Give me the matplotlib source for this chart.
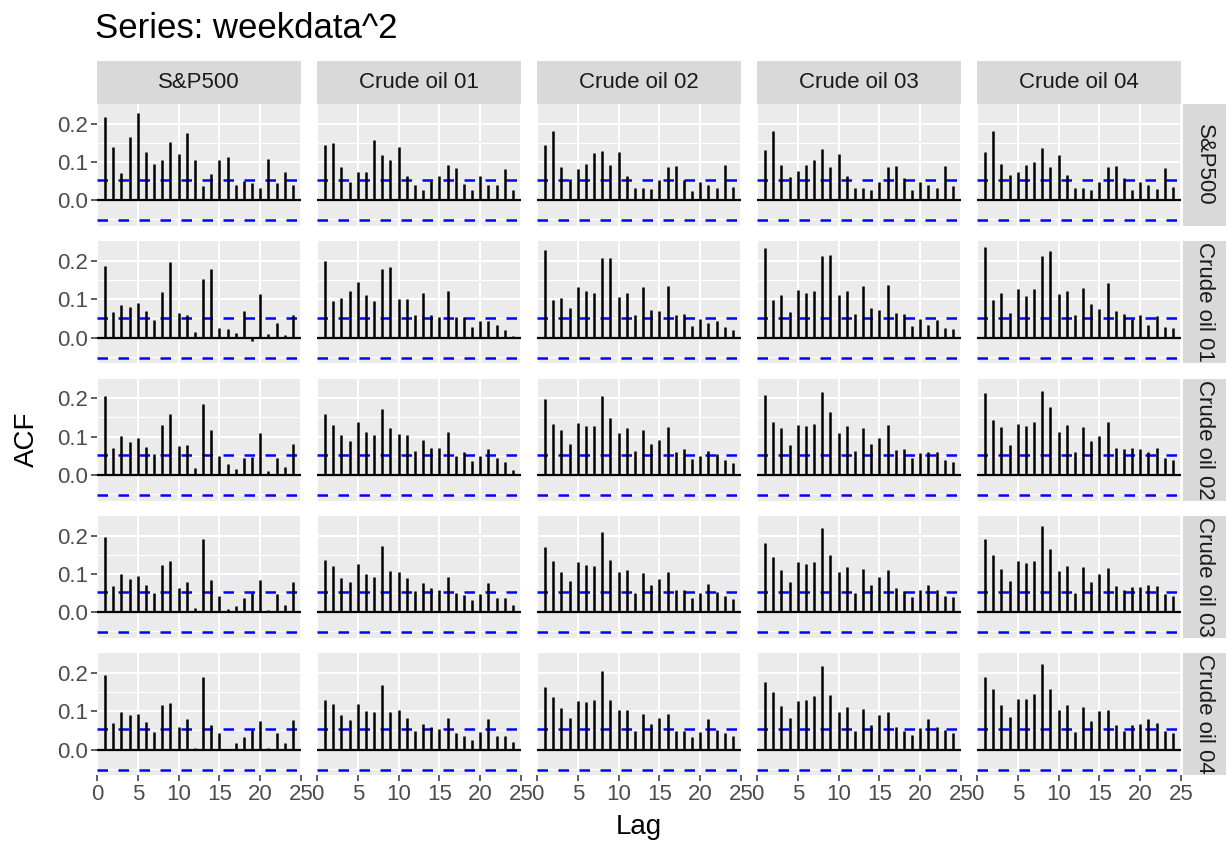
import matplotlib
matplotlib.use('Agg')
import matplotlib.pyplot as plt
import numpy as np

plt.rcParams['font.family'] = ['Liberation Sans', 'DejaVu Sans']

names = ['S&P500', 'Crude oil 01', 'Crude oil 02', 'Crude oil 03', 'Crude oil 04']
lags = np.arange(1, 25)
ci = 0.0525  # 1.96 / sqrt(n)

# rows = first series (right strip), columns = second series (top strip)
sp_sp = [0.218, 0.140, 0.071, 0.166, 0.229, 0.126, 0.094, 0.104, 0.152, 0.121, 0.176, 0.105,
         0.037, 0.068, 0.104, 0.114, 0.041, 0.050, 0.046, 0.033, 0.108, 0.045, 0.074, 0.039]
sp_o1 = [0.145, 0.149, 0.087, 0.047, 0.073, 0.074, 0.157, 0.118, 0.104, 0.139, 0.063, 0.041,
         0.028, 0.050, 0.064, 0.093, 0.085, 0.043, 0.027, 0.063, 0.039, 0.039, 0.082, 0.026]
sp_o2 = [0.145, 0.182, 0.087, 0.056, 0.083, 0.094, 0.123, 0.129, 0.091, 0.126, 0.064, 0.033,
         0.031, 0.030, 0.053, 0.087, 0.089, 0.054, 0.024, 0.048, 0.039, 0.032, 0.092, 0.034]
sp_o3 = [0.132, 0.180, 0.092, 0.062, 0.077, 0.093, 0.106, 0.134, 0.088, 0.120, 0.064, 0.032,
         0.032, 0.027, 0.049, 0.087, 0.089, 0.058, 0.026, 0.048, 0.041, 0.031, 0.089, 0.037]
sp_o4 = [0.127, 0.181, 0.096, 0.067, 0.074, 0.091, 0.099, 0.137, 0.088, 0.119, 0.066, 0.032,
         0.031, 0.027, 0.048, 0.087, 0.089, 0.059, 0.027, 0.047, 0.040, 0.029, 0.084, 0.034]

o1_sp = [0.186, 0.067, 0.086, 0.081, 0.090, 0.069, 0.047, 0.120, 0.197, 0.064, 0.059, 0.014,
         0.154, 0.180, 0.025, 0.023, 0.012, 0.070, -0.010, 0.114, 0.009, 0.038, 0.007, 0.059]
o1_o1 = [0.200, 0.095, 0.103, 0.123, 0.144, 0.110, 0.096, 0.179, 0.184, 0.102, 0.102, 0.059,
         0.117, 0.058, 0.054, 0.121, 0.054, 0.054, 0.028, 0.044, 0.043, 0.033, 0.021, 0.003]
o1_o2 = [0.229, 0.097, 0.104, 0.078, 0.133, 0.123, 0.117, 0.208, 0.207, 0.107, 0.117, 0.060,
         0.132, 0.073, 0.070, 0.135, 0.060, 0.062, 0.031, 0.048, 0.037, 0.043, 0.027, 0.019]
o1_o3 = [0.235, 0.098, 0.112, 0.068, 0.124, 0.117, 0.123, 0.213, 0.216, 0.110, 0.121, 0.062,
         0.134, 0.078, 0.071, 0.138, 0.064, 0.063, 0.030, 0.049, 0.032, 0.046, 0.025, 0.023]
o1_o4 = [0.237, 0.099, 0.117, 0.065, 0.127, 0.108, 0.127, 0.213, 0.226, 0.114, 0.122, 0.059,
         0.130, 0.089, 0.074, 0.143, 0.070, 0.063, 0.049, 0.060, 0.033, 0.056, 0.029, 0.025]

o2_sp = [0.205, 0.070, 0.101, 0.087, 0.097, 0.072, 0.054, 0.130, 0.158, 0.075, 0.077, 0.017,
         0.184, 0.117, 0.050, 0.028, 0.015, 0.044, 0.046, 0.110, 0.009, 0.044, 0.022, 0.080]
o2_o1 = [0.159, 0.130, 0.104, 0.089, 0.137, 0.112, 0.103, 0.172, 0.122, 0.107, 0.105, 0.063,
         0.092, 0.070, 0.070, 0.111, 0.050, 0.059, 0.037, 0.050, 0.068, 0.043, 0.034, 0.014]
o2_o2 = [0.198, 0.133, 0.117, 0.081, 0.136, 0.128, 0.127, 0.206, 0.149, 0.109, 0.122, 0.063,
         0.117, 0.080, 0.091, 0.125, 0.059, 0.067, 0.042, 0.049, 0.063, 0.054, 0.039, 0.030]
o2_o3 = [0.208, 0.139, 0.122, 0.077, 0.130, 0.129, 0.133, 0.216, 0.163, 0.109, 0.128, 0.063,
         0.123, 0.082, 0.096, 0.131, 0.065, 0.068, 0.044, 0.058, 0.060, 0.059, 0.039, 0.035]
o2_o4 = [0.213, 0.143, 0.126, 0.078, 0.134, 0.128, 0.137, 0.220, 0.177, 0.112, 0.131, 0.060,
         0.126, 0.089, 0.102, 0.137, 0.070, 0.067, 0.070, 0.068, 0.060, 0.070, 0.044, 0.038]

o3_sp = [0.197, 0.069, 0.099, 0.088, 0.094, 0.072, 0.051, 0.123, 0.134, 0.064, 0.078, 0.010,
         0.190, 0.085, 0.043, 0.008, 0.017, 0.038, 0.051, 0.085, 0.006, 0.047, 0.019, 0.079]
o3_o1 = [0.137, 0.120, 0.090, 0.078, 0.126, 0.099, 0.093, 0.172, 0.107, 0.106, 0.090, 0.056,
         0.077, 0.063, 0.058, 0.093, 0.049, 0.045, 0.031, 0.048, 0.077, 0.038, 0.036, 0.018]
o3_o2 = [0.170, 0.134, 0.106, 0.081, 0.132, 0.123, 0.120, 0.209, 0.137, 0.106, 0.109, 0.049,
         0.103, 0.071, 0.086, 0.106, 0.057, 0.057, 0.037, 0.049, 0.073, 0.052, 0.043, 0.035]
o3_o3 = [0.182, 0.143, 0.110, 0.079, 0.130, 0.127, 0.130, 0.219, 0.150, 0.104, 0.117, 0.049,
         0.112, 0.071, 0.092, 0.111, 0.062, 0.056, 0.041, 0.057, 0.071, 0.057, 0.043, 0.041]
o3_o4 = [0.190, 0.149, 0.114, 0.081, 0.133, 0.129, 0.134, 0.224, 0.165, 0.107, 0.122, 0.049,
         0.117, 0.079, 0.100, 0.115, 0.068, 0.057, 0.066, 0.065, 0.071, 0.068, 0.047, 0.043]

o4_sp = [0.194, 0.070, 0.097, 0.091, 0.092, 0.072, 0.045, 0.116, 0.122, 0.059, 0.079, 0.005,
         0.190, 0.065, 0.042, 0.002, 0.017, 0.034, 0.052, 0.075, 0.003, 0.043, 0.016, 0.077]
o4_o1 = [0.130, 0.119, 0.090, 0.076, 0.119, 0.100, 0.098, 0.169, 0.098, 0.103, 0.082, 0.048,
         0.066, 0.058, 0.053, 0.083, 0.043, 0.036, 0.024, 0.047, 0.079, 0.035, 0.036, 0.019]
o4_o2 = [0.162, 0.137, 0.109, 0.083, 0.128, 0.123, 0.129, 0.205, 0.129, 0.103, 0.102, 0.048,
         0.094, 0.066, 0.083, 0.092, 0.048, 0.048, 0.033, 0.047, 0.081, 0.051, 0.044, 0.036]
o4_o3 = [0.175, 0.150, 0.114, 0.083, 0.128, 0.130, 0.139, 0.217, 0.143, 0.099, 0.111, 0.048,
         0.106, 0.065, 0.091, 0.097, 0.058, 0.048, 0.037, 0.057, 0.080, 0.059, 0.052, 0.042]
o4_o4 = [0.190, 0.157, 0.117, 0.086, 0.132, 0.132, 0.145, 0.224, 0.158, 0.103, 0.117, 0.046,
         0.112, 0.075, 0.100, 0.102, 0.064, 0.049, 0.063, 0.066, 0.080, 0.070, 0.048, 0.043]

grid = [[sp_sp, sp_o1, sp_o2, sp_o3, sp_o4],
        [o1_sp, o1_o1, o1_o2, o1_o3, o1_o4],
        [o2_sp, o2_o1, o2_o2, o2_o3, o2_o4],
        [o3_sp, o3_o1, o3_o2, o3_o3, o3_o4],
        [o4_sp, o4_o1, o4_o2, o4_o3, o4_o4]]

W, H = 1227, 848
fig = plt.figure(figsize=(W / 100, H / 100), dpi=100)


def rect(x, y, w, h):
    # pixel box (top-left origin) -> figure fraction
    return [x / W, 1 - (y + h) / H, w / W, h / H]


# shared y scale like ggplot facets
allv = np.concatenate([np.array(r) for row in grid for r in row])
lo, hi = min(-ci, allv.min()), max(ci, allv.max())
pad = 0.05 * (hi - lo)
ylim = (lo - pad, hi + pad)

x0, y0 = 97, 104
pw, ph = 204, 122
gx, gy = 220, 137.3
strip = 43

for r in range(5):
    for c in range(5):
        ax = fig.add_axes(rect(x0 + c * gx, y0 + r * gy, pw, ph))
        ax.set_facecolor('#EBEBEB')
        for s in ax.spines.values():
            s.set_visible(False)
        ax.set_xlim(0, 25)
        ax.set_ylim(*ylim)
        ax.set_xticks([0, 5, 10, 15, 20, 25])
        ax.set_yticks([0.0, 0.1, 0.2])
        ax.set_yticks([-0.05, 0.05, 0.15], minor=True)
        ax.grid(True, which='major', color='white', lw=1.5)
        ax.grid(True, which='minor', axis='y', color='white', lw=0.8)
        ax.set_axisbelow(True)
        ax.axhline(0, color='black', lw=1.6)
        ax.axhline(ci, color='blue', lw=1.8, ls=(0, (4.2, 4.2)))
        ax.axhline(-ci, color='blue', lw=1.8, ls=(0, (4.2, 4.2)))
        ax.vlines(lags, 0, grid[r][c], color='black', lw=1.8)
        ax.tick_params(which='minor', length=0)
        ax.tick_params(which='major', colors='#333333', labelcolor='#4D4D4D',
                       labelsize=16, length=4.5, width=1.1, pad=2)
        ax.yaxis.set_major_formatter(plt.FormatStrFormatter('%.1f'))
        if c != 0:
            ax.tick_params(axis='y', left=False, labelleft=False)
        if r != 4:
            ax.tick_params(axis='x', bottom=False, labelbottom=False)

# top strips
for c in range(5):
    sax = fig.add_axes(rect(x0 + c * gx, y0 - strip, pw, strip))
    sax.set_facecolor('#D9D9D9')
    sax.set_xticks([])
    sax.set_yticks([])
    for s in sax.spines.values():
        s.set_visible(False)
    sax.text(0.5, 0.5, names[c], ha='center', va='center', fontsize=16,
             color='#1A1A1A', transform=sax.transAxes)

# right strips
for r in range(5):
    sax = fig.add_axes(rect(x0 + 4 * gx + pw + 2, y0 + r * gy, strip, ph))
    sax.set_facecolor('#D9D9D9')
    sax.set_xticks([])
    sax.set_yticks([])
    for s in sax.spines.values():
        s.set_visible(False)
    sax.text(0.5, 0.5, names[r], ha='center', va='center', fontsize=16,
             color='#1A1A1A', rotation=-90, transform=sax.transAxes, clip_on=False)

fig.text(x0 / W - 0.002, 1 - 28 / H, 'Series: weekdata^2', fontsize=25, va='center', ha='left')
mid_y = y0 + (4 * gy + ph) / 2
mid_x = x0 + (4 * gx + pw) / 2
fig.text(27 / W, 1 - mid_y / H, 'ACF', fontsize=20, rotation=90, ha='center', va='center')
fig.text(mid_x / W, 1 - 827 / H, 'Lag', fontsize=20, ha='center', va='center')

fig.savefig('out.png', dpi=100)
